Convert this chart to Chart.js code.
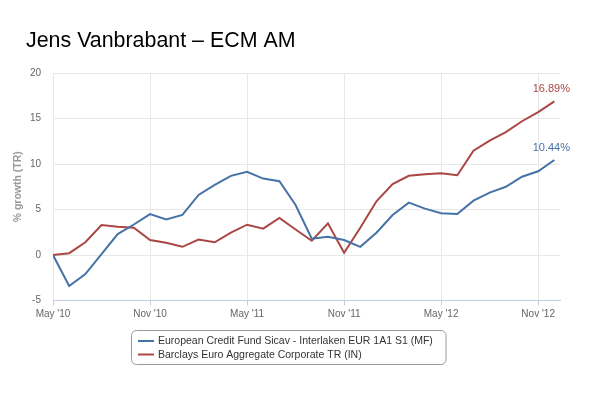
<!DOCTYPE html>
<html>
<head>
<meta charset="utf-8">
<script src="https://cdn.jsdelivr.net/npm/chart.js@4/dist/chart.umd.min.js"></script>
<style>
  html, body { margin: 0; padding: 0; background: #ffffff; }
  #wrap { width: 600px; height: 393px; position: relative; }
</style>
</head>
<body>
<div id="wrap"><canvas id="c" width="600" height="393"></canvas></div>
<script>
// ---- data ----
const chartTitle = "Jens Vanbrabant \u2013 ECM AM";
const months = [
  "May 2010","Jun 2010","Jul 2010","Aug 2010","Sep 2010","Oct 2010","Nov 2010","Dec 2010",
  "Jan 2011","Feb 2011","Mar 2011","Apr 2011","May 2011","Jun 2011","Jul 2011","Aug 2011",
  "Sep 2011","Oct 2011","Nov 2011","Dec 2011","Jan 2012","Feb 2012","Mar 2012","Apr 2012",
  "May 2012","Jun 2012","Jul 2012","Aug 2012","Sep 2012","Oct 2012","Nov 2012","Dec 2012"
];
const fundLabel = "European Credit Fund Sicav - Interlaken EUR 1A1 S1 (MF)";
const fundValues = [
  0, -3.4, -2.1, 0.1, 2.3, 3.35, 4.5, 3.9,
  4.4, 6.6, 7.7, 8.7, 9.15, 8.4, 8.1, 5.5,
  1.8, 2.0, 1.65, 0.9, 2.45, 4.4, 5.75, 5.1,
  4.6, 4.5, 5.97, 6.85, 7.5, 8.6, 9.2, 10.44
];
const indexLabel = "Barclays Euro Aggregate Corporate TR (IN)";
const indexValues = [
  0, 0.2, 1.4, 3.3, 3.1, 3.0, 1.65, 1.35,
  0.9, 1.7, 1.4, 2.45, 3.33, 2.9, 4.07, 2.8,
  1.57, 3.48, 0.25, 3.0, 5.9, 7.8, 8.7, 8.87,
  8.98, 8.76, 11.46, 12.56, 13.5, 14.7, 15.7, 16.89
];
const xTickMonths = ["May 2010","Nov 2010","May 2011","Nov 2011","May 2012","Nov 2012"];
const xTickLabels = ["May '10","Nov '10","May '11","Nov '11","May '12","Nov '12"];
const yTitle = "% growth (TR)";

// ---- build ----
const FONT = "'Liberation Sans', Arial, Helvetica, sans-serif";
const BLUE = '#4572A7';
const RED = '#AA4643';
const toPoints = vals => vals.map((v, i) => ({ x: i, y: v }));
const tickIdx = xTickMonths.map(m => months.indexOf(m));

const titlePlugin = {
  id: 'titleText',
  afterDraw(chart) {
    const ctx = chart.ctx;
    ctx.save();
    ctx.font = '21.4px ' + FONT;
    ctx.fillStyle = '#000000';
    ctx.textAlign = 'left';
    ctx.textBaseline = 'alphabetic';
    ctx.fillText(chartTitle, 26, 47);
    ctx.restore();
  }
};

const endLabelPlugin = {
  id: 'endLabels',
  afterDatasetsDraw(chart) {
    const ctx = chart.ctx;
    ctx.save();
    ctx.font = '11px ' + FONT;
    ctx.textAlign = 'center';
    ctx.textBaseline = 'middle';
    chart.data.datasets.forEach((ds, i) => {
      const meta = chart.getDatasetMeta(i);
      const pt = meta.data[meta.data.length - 1];
      const v = ds.data[ds.data.length - 1].y;
      ctx.fillStyle = ds.borderColor;
      ctx.fillText(v.toFixed(2) + '%', pt.x - 3, pt.y - 12.5);
    });
    ctx.restore();
  }
};

const legendPlugin = {
  id: 'boxLegend',
  afterDraw(chart) {
    const ctx = chart.ctx;
    const bx = 131.5, by = 330.5, bw = 314.5, bh = 34, r = 5;
    ctx.save();
    ctx.beginPath();
    ctx.moveTo(bx + r, by);
    ctx.lineTo(bx + bw - r, by);
    ctx.arcTo(bx + bw, by, bx + bw, by + r, r);
    ctx.lineTo(bx + bw, by + bh - r);
    ctx.arcTo(bx + bw, by + bh, bx + bw - r, by + bh, r);
    ctx.lineTo(bx + r, by + bh);
    ctx.arcTo(bx, by + bh, bx, by + bh - r, r);
    ctx.lineTo(bx, by + r);
    ctx.arcTo(bx, by, bx + r, by, r);
    ctx.closePath();
    ctx.strokeStyle = '#9a9a9a';
    ctx.lineWidth = 1;
    ctx.stroke();
    ctx.font = '10.5px ' + FONT;
    ctx.textAlign = 'left';
    ctx.textBaseline = 'middle';
    chart.data.datasets.forEach((ds, i) => {
      const y = 341 + i * 13.5;
      ctx.strokeStyle = ds.borderColor;
      ctx.lineWidth = 2;
      ctx.beginPath();
      ctx.moveTo(138, y);
      ctx.lineTo(154, y);
      ctx.stroke();
      ctx.fillStyle = '#333333';
      ctx.fillText(ds.label, 158, y + 0.5);
    });
    ctx.restore();
  }
};

new Chart(document.getElementById('c'), {
  type: 'line',
  data: {
    datasets: [
      { label: fundLabel, data: toPoints(fundValues), borderColor: BLUE, backgroundColor: BLUE,
        borderWidth: 2, pointRadius: 0, tension: 0, fill: false },
      { label: indexLabel, data: toPoints(indexValues), borderColor: RED, backgroundColor: RED,
        borderWidth: 2, pointRadius: 0, tension: 0, fill: false }
    ]
  },
  options: {
    responsive: false,
    animation: false,
    devicePixelRatio: 1,
    layout: { padding: { left: 0, right: 40, top: 73, bottom: 72.5 } },
    plugins: {
      legend: { display: false },
      tooltip: { enabled: false },
      title: { display: false }
    },
    scales: {
      x: {
        type: 'linear',
        min: 0,
        max: 31.35,
        afterBuildTicks: s => { s.ticks = tickIdx.map(v => ({ value: v })); },
        afterFit: s => { s.height = 20; },
        ticks: {
          autoSkip: false, maxRotation: 0, minRotation: 0,
          color: '#666666', font: { family: FONT, size: 10 }, padding: 3,
          callback: v => { const k = tickIdx.indexOf(v); return k >= 0 ? xTickLabels[k] : ''; }
        },
        grid: { color: '#e8e8e8', tickColor: '#C0D0E0', tickLength: 5, lineWidth: 1 },
        border: { display: true, color: '#C0D0E0', width: 1 }
      },
      y: {
        min: -5,
        max: 20,
        afterFit: s => { s.width = 53; },
        ticks: { stepSize: 5, color: '#666666', font: { family: FONT, size: 10 }, padding: 12 },
        grid: { color: '#e8e8e8', drawTicks: false, lineWidth: 1 },
        border: { display: false },
        title: {
          display: true, text: yTitle, color: '#999999',
          font: { family: FONT, size: 10.5, weight: 'bold' },
          padding: { top: 12, bottom: 0 }
        }
      }
    }
  },
  plugins: [titlePlugin, endLabelPlugin, legendPlugin]
});
</script>
</body>
</html>
